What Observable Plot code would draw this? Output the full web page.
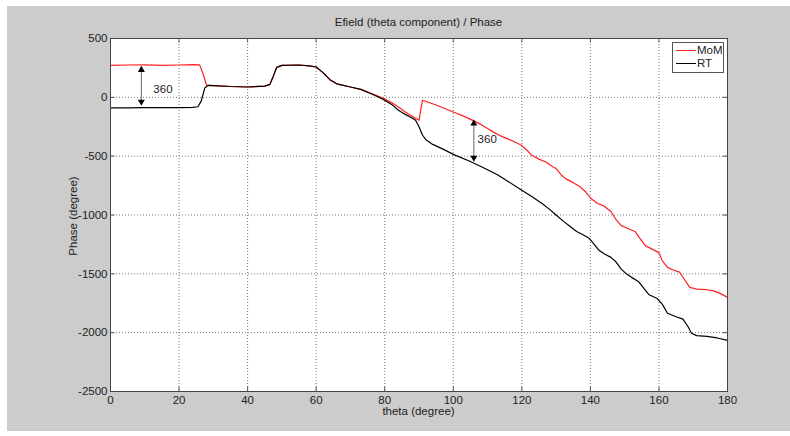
<!DOCTYPE html>
<html><head><meta charset="utf-8">
<script src="https://cdn.jsdelivr.net/npm/d3@7"></script>
<script src="https://cdn.jsdelivr.net/npm/@observablehq/plot@0.6"></script>
<style>
body{margin:0;background:#fff;font-family:"Liberation Sans",Arial,sans-serif;}
#wrap{position:relative;width:790px;height:436px;overflow:hidden;}
#bg{position:absolute;left:7px;top:6px;width:783px;height:425px;background:#cccccc;}
#chart{position:absolute;left:0;top:0;}
.t{position:absolute;font-size:11.5px;color:#222;white-space:nowrap;line-height:13px;}
#title{left:110px;width:617px;top:16px;text-align:center;}
#xlab{left:110px;width:617px;top:405px;text-align:center;}
#ylab{left:73px;top:216px;transform:translate(-50%,-50%) rotate(-90deg);}
#legend{position:absolute;left:672px;top:42px;width:50px;height:29px;border:1px solid #555;background:#fff;}
.sw{position:absolute;left:3px;width:20px;height:0;border-top:1.2px solid;}
.lt{position:absolute;left:24px;font-size:11.5px;color:#222;line-height:13px;white-space:nowrap;}
</style></head><body>
<div id="wrap"><div id="bg"></div><div id="chart"></div>
<div class="t" id="title">Efield (theta component) / Phase</div>
<div class="t" id="xlab">theta (degree)</div>
<div class="t" id="ylab">Phase (degree)</div>
<div id="legend">
  <div class="sw" style="top:7px;border-color:#ff2020"></div><div class="lt" style="top:1px">MoM</div>
  <div class="sw" style="top:20px;border-color:#000"></div><div class="lt" style="top:14px">RT</div>
</div>
</div>
<script>
const momTheta = [0,5,10,15,20,24,26,27,28,30,35,40,45,46.5,47.5,48.5,50,55,58,60,62,64,66,70,73,76,78,80,82,84,86,88,90,91,95,100,103,106,108,110,112,114,116,118,120,121.5,123,125,127,129,130,131.5,133,135,137,138.5,140,142,144,146,147.5,149,151,153,154.5,156,158,160,161,162.5,164,166,167.5,169,171,174,176,178,180];
const momPhase = [272,275,276,272,275,278,276,200,105,100,92,88,95,110,180,255,272,275,268,258,210,150,115,88,68,35,10,-15,-45,-82,-125,-160,-195,-25,-65,-125,-160,-200,-230,-265,-300,-330,-355,-380,-410,-450,-495,-525,-550,-590,-605,-660,-695,-725,-760,-800,-855,-900,-925,-970,-1040,-1090,-1115,-1140,-1200,-1260,-1290,-1320,-1390,-1445,-1465,-1485,-1550,-1615,-1630,-1635,-1645,-1668,-1700];
const rtTheta = [0,5,10,15,20,24,25.5,26.5,27.5,28.5,30,35,40,45,46.5,47.5,48.5,50,55,58,60,62,64,66,70,73,76,78,80,82,84,86,88,89,90,91,92,94,97,100,105,110,113,116,120,123,126,128,130,132,134,136,138,139.5,141,142.5,144,146,147.5,149,150.5,152,154,155.5,157,159.5,161,162.5,165,167,168.5,169.5,171,174,177,180];
const rtPhase = [-90,-90,-88,-88,-87,-85,-80,-30,80,102,100,92,88,95,110,180,255,272,275,268,258,210,150,115,88,68,30,5,-25,-60,-110,-145,-175,-195,-250,-320,-360,-400,-440,-485,-545,-615,-660,-715,-790,-845,-905,-950,-1000,-1050,-1095,-1140,-1170,-1195,-1245,-1300,-1330,-1360,-1400,-1460,-1500,-1530,-1565,-1620,-1675,-1710,-1760,-1835,-1865,-1885,-1950,-2005,-2025,-2032,-2045,-2065];
const xTicks = [0,20,40,60,80,100,120,140,160,180];
const yTicks = [-2500,-2000,-1500,-1000,-500,0,500];
const annotTheta = [9,106];
const annotTop = [250,-205];
const annotBottom = [-55,-530];
const labelTheta = [12.5,107.1];
const labelPhase = [65,-360];
const labelText = ["360","360"];

const mom = momTheta.map((t,i)=>({theta:t, phase:momPhase[i]}));
const rt = rtTheta.map((t,i)=>({theta:t, phase:rtPhase[i]}));
const arrows = annotTheta.map((t,i)=>({theta:t, top:annotTop[i], bottom:annotBottom[i]}));
const labels = labelTheta.map((t,i)=>({theta:t, phase:labelPhase[i], text:labelText[i]}));
const innerX = xTicks.slice(1,-1), innerY = yTicks.slice(1,-1);
const yTickLen = 1.3, xTickLen = 38;

const chart = Plot.plot({
  width: 790, height: 436,
  marginLeft: 110, marginRight: 63, marginTop: 38, marginBottom: 45,
  style: {background: "transparent", fontFamily: "Liberation Sans, Arial, sans-serif", fontSize: "11.5px", color: "#222"},
  x: {domain: [0,180], ticks: xTicks, tickSize: 0, tickPadding: 4, tickFormat: d => String(d), label: null},
  y: {domain: [-2500,500], ticks: yTicks, tickSize: 0, tickPadding: 3, tickFormat: d => String(d), label: null},
  marks: [
    Plot.frame({fill: "white", stroke: null}),
    Plot.ruleX(innerX, {stroke: "#777", strokeDasharray: "1,2"}),
    Plot.ruleY(innerY, {stroke: "#777", strokeDasharray: "1,2"}),
    Plot.ruleX(innerX, {y1: -2500, y2: -2500 + xTickLen, stroke: "#555"}),
    Plot.ruleX(innerX, {y1: 500 - xTickLen, y2: 500, stroke: "#555"}),
    Plot.ruleY(innerY, {x1: 0, x2: yTickLen, stroke: "#555"}),
    Plot.ruleY(innerY, {x1: 180 - yTickLen, x2: 180, stroke: "#555"}),
    Plot.line(mom, {x: "theta", y: "phase", stroke: "#ff2020", strokeWidth: 1.2}),
    Plot.line(rt, {x: "theta", y: "phase", stroke: "#000", strokeWidth: 1.2}),
    Plot.link(arrows, {x1: "theta", x2: "theta", y1: "top", y2: "bottom", stroke: "#666", strokeWidth: 1}),
    Plot.dot(arrows, {x: "theta", y: "top", symbol: "triangle", r: 2.6, fill: "#000", stroke: null, dy: 2}),
    Plot.dot(arrows, {x: "theta", y: "bottom", symbol: "triangle", r: 2.6, fill: "#000", stroke: null, rotate: 180, dy: -2}),
    Plot.text(labels, {x: "theta", y: "phase", text: "text", textAnchor: "start", fontSize: 11.5, fill: "#222"}),
    Plot.frame({stroke: "#444"})
  ]
});
document.getElementById("chart").appendChild(chart);
</script>
</body></html>
